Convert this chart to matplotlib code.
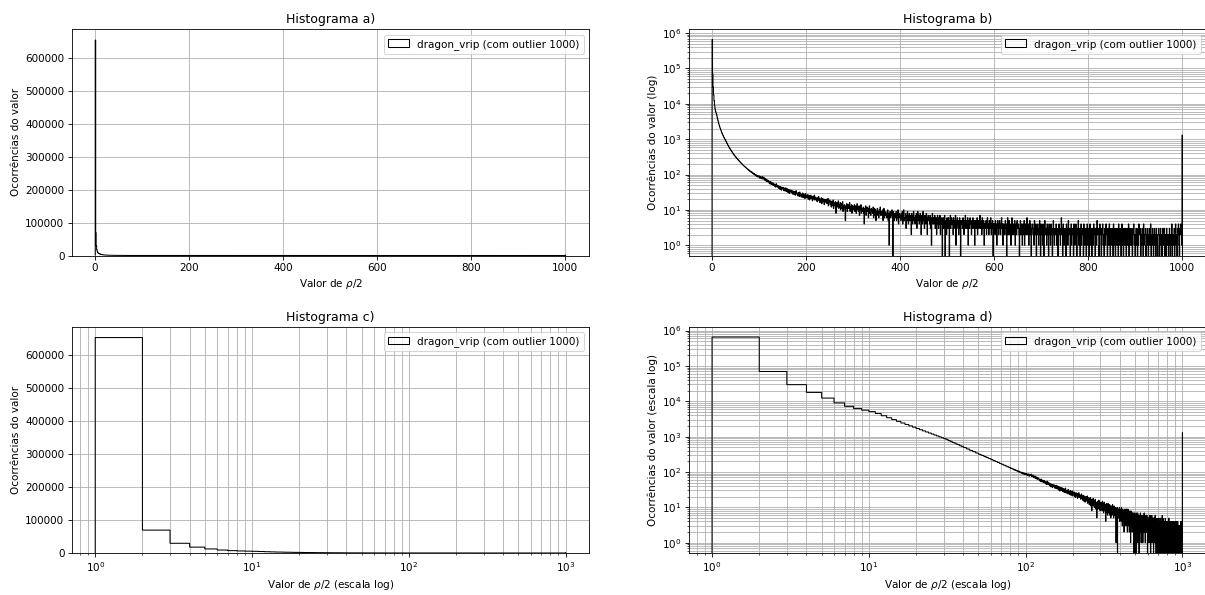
import numpy as np
import matplotlib
matplotlib.use('Agg')
import matplotlib.pyplot as plt

# Occurrence counts of each integer value of rho/2 (values 1..1000)
counts_1_50 = [
    654000, 69500, 29500, 17800, 12300, 9000, 7200, 6200, 5600, 5100,
    4500, 3900, 3420, 3030, 2700, 2430, 2210, 2010, 1850, 1700,
    1570, 1455, 1355, 1265, 1185, 1110, 1045, 985, 930, 880,
    840, 771, 738, 684, 657, 611, 590, 549, 534, 497,
    485, 451, 441, 410, 404, 377, 372, 346, 342, 319,
]
counts_51_100 = [
    316, 298, 293, 279, 271, 260, 253, 241, 238, 225,
    223, 210, 211, 198, 196, 186, 185, 175, 174, 165,
    166, 156, 157, 148, 149, 140, 141, 133, 135, 126,
    128, 121, 122, 114, 118, 110, 112, 105, 108, 100,
    104, 96, 99, 92, 97, 88, 94, 85, 91, 86,
]
counts_101_200 = [
    91, 79, 85, 88, 76, 83, 80, 87, 74, 78,
    82, 71, 69, 77, 66, 73, 64, 70, 62, 68,
    65, 57, 61, 54, 63, 56, 52, 59, 55, 50,
    57, 49, 53, 46, 52, 44, 55, 48, 45, 50,
    43, 47, 40, 46, 38, 45, 42, 36, 44, 41,
    39, 43, 35, 41, 37, 34, 42, 38, 33, 40,
    36, 31, 38, 34, 29, 37, 33, 35, 30, 36,
    32, 28, 34, 30, 27, 33, 31, 26, 35, 29,
    30, 27, 25, 31, 28, 24, 32, 26, 29, 23,
    27, 25, 30, 22, 28, 24, 26, 21, 29, 25,
]
counts_201_300 = [
    26, 22, 24, 27, 20, 25, 23, 19, 26, 24,
    21, 25, 22, 18, 24, 23, 20, 26, 19, 22,
    23, 19, 21, 17, 22, 20, 24, 18, 21, 16,
    20, 18, 22, 15, 19, 21, 17, 19, 14, 20,
    17, 19, 16, 20, 15, 18, 21, 13, 17, 19,
    16, 14, 18, 12, 17, 15, 13, 19, 11, 16,
    15, 13, 17, 8, 14, 16, 12, 15, 18, 11,
    14, 12, 16, 10, 13, 15, 11, 17, 9, 13,
    12, 14, 10, 5, 13, 11, 15, 9, 12, 14,
    11, 13, 16, 9, 12, 10, 14, 8, 13, 11,
]
counts_301_400 = [
    12, 10, 14, 9, 11, 13, 8, 12, 15, 10,
    11, 9, 13, 7, 12, 10, 14, 8, 11, 9,
    10, 12, 8, 4, 11, 9, 13, 7, 10, 12,
    9, 11, 6, 10, 13, 8, 10, 7, 11, 9,
    10, 8, 12, 6, 9, 11, 7, 10, 5, 9,
    8, 11, 7, 9, 6, 10, 8, 12, 7, 9,
    9, 7, 10, 5, 8, 11, 6, 9, 7, 8,
    8, 6, 9, 10, 5, 8, 1, 7, 9, 6,
    8, 7, 10, 6, 0, 9, 7, 5, 8, 6,
    7, 9, 5, 8, 6, 10, 4, 7, 8, 6,
]
counts_401_500 = [
    7, 5, 8, 6, 9, 4, 7, 10, 5, 6,
    6, 8, 3, 7, 5, 9, 6, 4, 7, 8,
    5, 7, 6, 2, 8, 6, 4, 7, 9, 5,
    6, 4, 7, 5, 8, 3, 6, 9, 5, 7,
    4, 6, 8, 5, 2, 7, 6, 4, 9, 5,
    6, 3, 7, 5, 4, 8, 6, 2, 5, 7,
    5, 6, 4, 7, 3, 6, 1, 5, 8, 4,
    6, 4, 5, 7, 3, 5, 6, 2, 4, 7,
    5, 3, 6, 4, 7, 2, 5, 4, 6, 0,
    4, 6, 3, 5, 7, 0, 4, 5, 2, 6,
]
counts_501_600 = [
    5, 3, 6, 4, 0, 5, 7, 3, 4, 6,
    4, 5, 2, 6, 3, 5, 4, 7, 1, 5,
    3, 6, 4, 5, 2, 4, 6, 3, 0, 5,
    4, 5, 3, 6, 4, 2, 5, 4, 7, 3,
    5, 3, 4, 6, 1, 4, 5, 3, 6, 4,
    4, 2, 5, 3, 6, 4, 3, 5, 1, 4,
    5, 3, 4, 6, 2, 4, 5, 3, 4, 7,
    3, 5, 4, 2, 6, 3, 4, 5, 1, 4,
    4, 3, 5, 2, 4, 6, 3, 4, 2, 5,
    3, 4, 6, 2, 4, 3, 5, 0, 4, 3,
]
counts_601_700 = [
    4, 2, 5, 3, 4, 1, 3, 5, 4, 2,
    3, 5, 4, 2, 3, 6, 3, 4, 1, 4,
    4, 3, 2, 5, 3, 4, 0, 3, 6, 2,
    3, 5, 2, 4, 3, 1, 4, 6, 3, 2,
    4, 2, 3, 5, 1, 3, 4, 2, 5, 3,
    3, 4, 2, 0, 3, 5, 2, 4, 3, 1,
    4, 2, 3, 5, 1, 3, 4, 2, 3, 6,
    2, 3, 4, 1, 3, 5, 2, 4, 0, 3,
    3, 4, 2, 3, 1, 5, 3, 2, 4, 0,
    3, 2, 4, 3, 1, 2, 5, 3, 0, 4,
]
counts_701_800 = [
    2, 3, 1, 4, 3, 0, 2, 5, 3, 2,
    3, 1, 4, 2, 3, 0, 4, 2, 3, 1,
    4, 2, 3, 0, 2, 5, 3, 1, 3, 2,
    2, 4, 1, 3, 2, 0, 3, 4, 2, 3,
    1, 3, 6, 2, 3, 0, 4, 2, 1, 3,
    3, 2, 0, 4, 2, 3, 1, 5, 2, 3,
    2, 0, 3, 4, 1, 2, 3, 2, 0, 4,
    3, 1, 2, 4, 2, 0, 3, 2, 5, 1,
    2, 3, 0, 2, 4, 1, 3, 2, 3, 0,
    4, 2, 1, 3, 2, 0, 3, 4, 1, 2,
]
counts_801_900 = [
    3, 0, 2, 4, 1, 3, 2, 0, 3, 2,
    1, 4, 2, 3, 0, 2, 3, 1, 5, 2,
    2, 3, 0, 1, 4, 2, 3, 0, 2, 3,
    4, 1, 2, 0, 3, 2, 1, 4, 2, 3,
    0, 2, 3, 1, 4, 2, 0, 3, 2, 1,
    3, 2, 0, 4, 1, 2, 3, 0, 2, 3,
    1, 3, 2, 0, 4, 2, 1, 3, 2, 0,
    2, 4, 1, 3, 0, 2, 3, 1, 2, 3,
    0, 2, 3, 1, 2, 4, 0, 3, 2, 1,
    3, 1, 2, 0, 3, 2, 4, 1, 2, 0,
]
counts_901_999 = [
    2, 3, 1, 2, 0, 3, 1, 4, 2, 2,
    3, 0, 2, 1, 3, 2, 0, 4, 1, 2,
    2, 3, 0, 1, 2, 3, 1, 0, 2, 3,
    1, 2, 4, 0, 2, 1, 3, 2, 0, 2,
    3, 1, 2, 0, 3, 2, 1, 0, 2, 3,
    2, 0, 1, 3, 2, 1, 0, 2, 3, 1,
    2, 3, 0, 1, 2, 0, 3, 2, 1, 2,
    0, 2, 3, 1, 0, 2, 1, 4, 0, 2,
    2, 1, 3, 0, 2, 4, 1, 2, 0, 3,
    2, 4, 1, 0, 3, 2, 4, 2, 1,
]
outlier_count = 1300  # value 1000 (outlier)

counts = np.array(counts_1_50 + counts_51_100 + counts_101_200 + counts_201_300 +
                  counts_301_400 + counts_401_500 + counts_501_600 + counts_601_700 +
                  counts_701_800 + counts_801_900 + counts_901_999 + [outlier_count])
values = np.arange(1, len(counts) + 1)
edges = np.arange(1, len(counts) + 2)

label = 'dragon_vrip (com outlier 1000)'
titles = ['Histograma a)', 'Histograma b)', 'Histograma c)', 'Histograma d)']
xlabels = [r'Valor de $\rho/2$', r'Valor de $\rho/2$',
           r'Valor de $\rho/2$ (escala log)', r'Valor de $\rho/2$ (escala log)']
ylabels = ['Ocorrências do valor', 'Ocorrências do valor (log)',
           'Ocorrências do valor', 'Ocorrências do valor (escala log)']
log_y = [False, True, False, True]
log_x = [False, False, True, True]

DPI = 75
fig, axes = plt.subplots(2, 2, figsize=(1206 / DPI, 595 / DPI), dpi=DPI)
fig.subplots_adjust(left=71.7 / 1206, right=1.0, top=1 - 29.3 / 595,
                    bottom=1 - 553 / 595, wspace=0.192, hspace=0.315)

for i, ax in enumerate(axes.flat):
    ax.hist(values, bins=edges, weights=counts, histtype='step',
            color='black', log=log_y[i], label=label)
    if log_x[i]:
        ax.set_xscale('log')
    if log_x[i] or log_y[i]:
        ax.grid(True, which='both')
    else:
        ax.grid(True)
    ax.set_title(titles[i])
    ax.set_xlabel(xlabels[i])
    ax.set_ylabel(ylabels[i])
    ax.legend(loc='upper right')

fig.savefig('out.png', dpi=DPI)
